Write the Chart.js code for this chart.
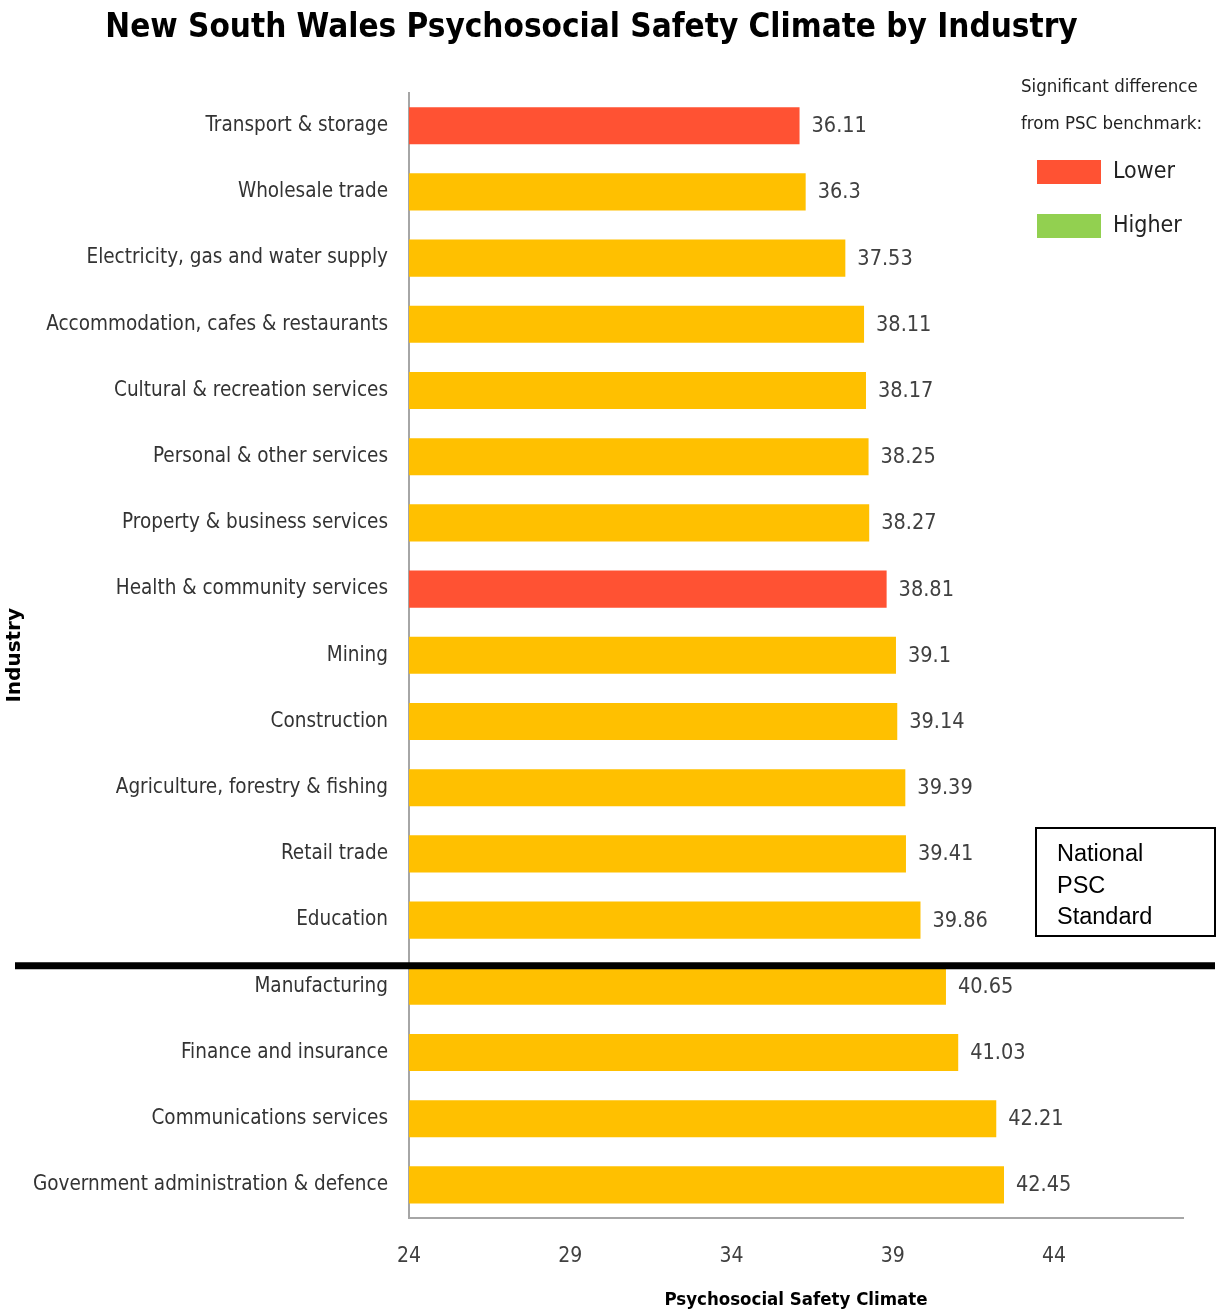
<!DOCTYPE html>
<html>
<head>
<meta charset="utf-8">
<script src="https://cdn.jsdelivr.net/npm/chart.js@4"></script>
<style>
  body { margin: 0; background: #fff; }
  #wrap { position: relative; width: 1216px; height: 1315px; }
  .note { position: absolute; font-family: 'DejaVu Sans Condensed', 'Liberation Sans Narrow', sans-serif; color: #222; white-space: nowrap; }
  .swatch { position: absolute; width: 64px; height: 24px; }
  #standard { position: absolute; left: 1035px; top: 827px; width: 181px; height: 110px; border: 2px solid #000;
              font-family: 'Liberation Sans', Arial, sans-serif; font-size: 23.5px; line-height: 31.5px; box-sizing: border-box; padding: 9px 0 0 20px; }
</style>
</head>
<body>
<div id="wrap">
  <canvas id="psc-chart" width="1216" height="1315"></canvas>
  <div class="note" style="left:1021px; top:67px; font-size:18.5px; line-height:37px;">Significant difference<br>from PSC benchmark:</div>
  <div class="swatch" style="left:1037px; top:160px; background:#FF5233;"></div>
  <div class="note" style="left:1113px; top:157px; font-size:23px;">Lower</div>
  <div class="swatch" style="left:1037px; top:214px; background:#92D050;"></div>
  <div class="note" style="left:1113px; top:211px; font-size:23px;">Higher</div>
  <div id="standard">National<br>PSC<br>Standard</div>
</div>
<script>
var industries = [
    "Transport & storage",
    "Wholesale trade",
    "Electricity, gas and water supply",
    "Accommodation, cafes & restaurants",
    "Cultural & recreation services",
    "Personal & other services",
    "Property & business services",
    "Health & community services",
    "Mining",
    "Construction",
    "Agriculture, forestry & fishing",
    "Retail trade",
    "Education",
    "Manufacturing",
    "Finance and insurance",
    "Communications services",
    "Government administration & defence"
];
var pscScores = [36.11, 36.3, 37.53, 38.11, 38.17, 38.25, 38.27, 38.81, 39.1, 39.14, 39.39, 39.41, 39.86, 40.65, 41.03, 42.21, 42.45];
var difference = ["lower", "none", "none", "none", "none", "none", "none", "lower", "none", "none", "none", "none", "none", "none", "none", "none", "none"];
var xTicks = [24, 29, 34, 39, 44];

const narrow = "'DejaVu Sans Condensed', 'Liberation Sans Narrow', sans-serif";
const colors = { lower: '#FF5233', higher: '#92D050', none: '#FFC000' };

// value labels at the end of each bar
const valueLabels = {
    id: 'valueLabels',
    afterDatasetsDraw(chart) {
        const ctx = chart.ctx;
        const meta = chart.getDatasetMeta(0);
        ctx.save();
        ctx.font = "21.5px " + narrow;
        ctx.fillStyle = '#404040';
        ctx.textAlign = 'left';
        ctx.textBaseline = 'middle';
        meta.data.forEach(function (bar, i) {
            ctx.fillText(String(pscScores[i]), bar.x + 12, bar.y + 1);
        });
        ctx.restore();
    }
};

// thick black line marking the national standard
const standardLine = {
    id: 'standardLine',
    afterDraw(chart) {
        const y = chart.scales.y;
        const a = y.getPixelForValue(12), b = y.getPixelForValue(13);
        const yy = a + (b - a) * 0.69;
        const ctx = chart.ctx;
        ctx.save();
        ctx.strokeStyle = '#000';
        ctx.lineWidth = 7;
        ctx.beginPath();
        ctx.moveTo(15, yy);
        ctx.lineTo(1215, yy);
        ctx.stroke();
        ctx.restore();
    }
};

new Chart(document.getElementById('psc-chart'), {
    type: 'bar',
    data: {
        labels: industries,
        datasets: [{
            data: pscScores,
            backgroundColor: difference.map(d => colors[d]),
            barPercentage: 0.56,
            categoryPercentage: 1
        }]
    },
    options: {
        indexAxis: 'y',
        responsive: false,
        animation: false,
        layout: { padding: { top: 0, right: 33, left: 0, bottom: 0 } },
        plugins: {
            legend: { display: false },
            tooltip: { enabled: false },
            title: {
                display: true,
                text: 'New South Wales Psychosocial Safety Climate by Industry',
                color: '#000',
                font: { family: narrow, size: 33, weight: 'bold' },
                padding: { top: 9, bottom: 44 }
            }
        },
        scales: {
            x: {
                min: 24,
                max: 48,
                afterBuildTicks: function (scale) {
                    scale.ticks = xTicks.map(v => ({ value: v }));
                },
                afterFit: function (scale) { scale.height = 97; },
                grid: { display: false, drawTicks: false },
                border: { color: '#a6a6a6', width: 2 },
                ticks: {
                    color: '#404040',
                    font: { family: narrow, size: 21 },
                    padding: 26
                },
                title: {
                    display: true,
                    text: 'Psychosocial Safety Climate',
                    color: '#000',
                    font: { family: narrow, size: 18.5, weight: 'bold' },
                    padding: { top: 0, bottom: 4 }
                }
            },
            y: {
                afterFit: function (scale) { scale.width = 409; },
                grid: { display: false, drawTicks: false },
                border: { color: '#a6a6a6', width: 2 },
                ticks: {
                    color: '#333',
                    font: { family: narrow, size: 20.5 },
                    padding: 21
                },
                title: {
                    display: true,
                    text: 'Industry',
                    color: '#000',
                    font: { family: 'DejaVu Sans', size: 20, weight: 'bold' },
                    padding: { top: 3, bottom: 0 }
                }
            }
        }
    },
    plugins: [valueLabels, standardLine]
});
</script>
</body>
</html>
